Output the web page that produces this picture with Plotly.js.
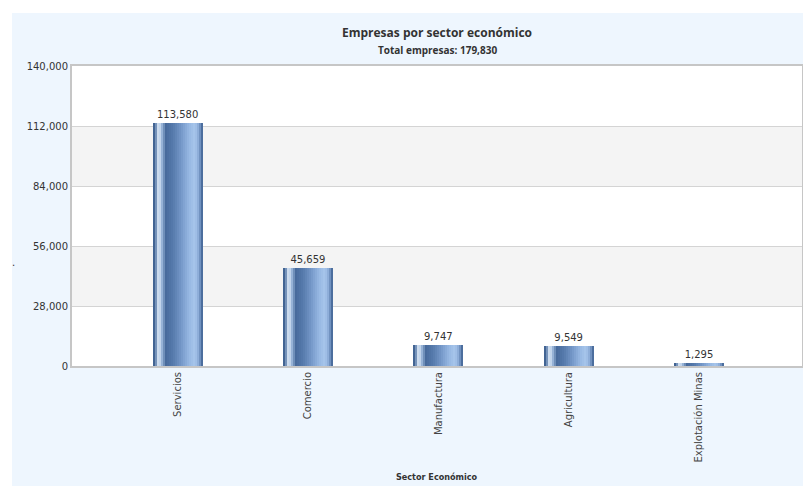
<!DOCTYPE html>
<html>
<head>
<meta charset="utf-8">
<script src="https://cdn.plot.ly/plotly-3.0.1.min.js"></script>
<style>html,body{margin:0;padding:0;background:#fff;}#chart{width:803px;height:486px;}</style>
</head>
<body>
<div id="chart"></div>
<script>
// ---- data ----
const categories = ['Servicios', 'Comercio', 'Manufactura', 'Agricultura', 'Explotación Minas'];
const empresas = [113580, 45659, 9747, 9549, 1295];
const yTickVals = [0, 28000, 56000, 84000, 112000, 140000];
const chartTitle = 'Empresas por sector económico';
const chartSubtitle = 'Total empresas: 179,830';
const xTitle = 'Sector Económico';
const yTitle = '.';

// ---- style helpers ----
const BAR_W = 0.383;
const stops = [
  [0.00, [47, 82, 131]],
  [0.05, [95, 128, 172]],
  [0.11, [226, 237, 250]],
  [0.18, [150, 178, 214]],
  [0.26, [72, 107, 156]],
  [0.40, [86, 122, 172]],
  [0.55, [114, 149, 198]],
  [0.72, [150, 183, 226]],
  [0.84, [168, 198, 236]],
  [0.91, [138, 170, 214]],
  [0.97, [88, 122, 170]],
  [1.00, [52, 86, 134]]
];
function colorAt(t) {
  for (let k = 0; k < stops.length - 1; k++) {
    const a = stops[k], b = stops[k + 1];
    if (t >= a[0] && t <= b[0]) {
      const f = (t - a[0]) / (b[0] - a[0]);
      const c = a[1].map((v, j) => Math.round(v + (b[1][j] - v) * f));
      return 'rgb(' + c.join(',') + ')';
    }
  }
  return 'rgb(52,86,134)';
}

const traces = [];
// outer bar with labels
traces.push({
  type: 'bar', x: categories, y: empresas, width: BAR_W,
  marker: { color: 'rgb(52,86,134)', line: { width: 0 } },
  text: empresas.map(v => v.toLocaleString('en-US')),
  textposition: 'outside', cliponaxis: false,
  textfont: { family: 'DejaVu Sans', size: 10, color: '#333' },
  hoverinfo: 'x+y', showlegend: false
});
const N = 25;
const sw = BAR_W / N;
for (let i = 0; i < N; i++) {
  const t = (i + 0.5) / N;
  traces.push({
    type: 'bar', x: categories, y: empresas,
    width: i === N - 1 ? sw : sw * 2, offset: -BAR_W / 2 + i * sw,
    marker: { color: colorAt(t), line: { width: 0 } },
    hoverinfo: 'skip', showlegend: false, textposition: 'none'
  });
}

const plotL = 72, plotR = 802, plotT = 66, plotB = 366, H = 486, Wd = 803;
const pw = plotR - plotL, ph = plotB - plotT;
const px = v => (v - plotL) / pw;
const py = v => (plotB - v) / ph;

const bands = [];
for (let k = 1; k + 1 < yTickVals.length; k += 2) {
  bands.push({
    type: 'rect', xref: 'paper', yref: 'y', x0: 0, x1: 1,
    y0: yTickVals[k], y1: yTickVals[k + 1],
    fillcolor: '#f4f4f4', line: { width: 0 }, layer: 'below'
  });
}

const layout = {
  width: Wd, height: H,
  margin: { l: plotL, r: Wd - plotR, t: plotT, b: H - plotB, pad: 0 },
  paper_bgcolor: '#eef6fe',
  plot_bgcolor: '#ffffff',
  barmode: 'overlay',
  bargap: 0,
  showlegend: false,
  font: { family: 'DejaVu Sans', size: 10, color: '#333' },
  title: {
    text: '<b>' + chartTitle + '</b>',
    font: { family: 'Open Sans', size: 12, color: '#333' },
    xref: 'paper', x: 0.5, xanchor: 'center',
    yref: 'container', y: 1 - 33 / H, yanchor: 'middle'
  },
  xaxis: {
    type: 'category', range: [-0.81, 4.79],
    tickangle: -90, ticks: '', ticklen: 0,
    tickfont: { family: 'DejaVu Sans', size: 10, color: '#444' },
    showgrid: false, zeroline: false,
    showline: true, linecolor: '#c6c6c6', linewidth: 2, mirror: true,
    automargin: false, fixedrange: true
  },
  yaxis: {
    range: [0, 140000], tickvals: yTickVals, tickformat: ',d',
    tickfont: { family: 'DejaVu Sans', size: 10, color: '#333' },
    ticks: '', showgrid: true, gridcolor: '#d4d4d4', gridwidth: 1,
    zeroline: false, showline: true, linecolor: '#c6c6c6', linewidth: 2, mirror: true,
    automargin: false, fixedrange: true
  },
  shapes: [
    { type: 'rect', xref: 'paper', yref: 'paper', x0: px(0), x1: px(Wd + 5), y0: py(13), y1: py(-5),
      fillcolor: '#ffffff', line: { width: 0 }, layer: 'below' },
    { type: 'rect', xref: 'paper', yref: 'paper', x0: px(-5), x1: px(12), y0: py(H + 5), y1: py(-5),
      fillcolor: '#ffffff', line: { width: 0 }, layer: 'below' }
  ].concat(bands),
  annotations: [
    { text: '<b>' + chartSubtitle + '</b>', xref: 'paper', yref: 'paper', x: 0.5, y: py(50),
      xanchor: 'center', yanchor: 'middle', showarrow: false,
      font: { family: 'Open Sans', size: 10, color: '#333' } },
    { text: '<b>' + xTitle + '</b>', xref: 'paper', yref: 'paper', x: 0.5, y: py(477),
      xanchor: 'center', yanchor: 'middle', showarrow: false,
      font: { family: 'DejaVu Sans Condensed', size: 9, color: '#333' } },
    { text: yTitle, xref: 'paper', yref: 'paper', x: px(13), y: py(262),
      xanchor: 'center', yanchor: 'middle', showarrow: false,
      font: { family: 'DejaVu Sans', size: 10, color: '#333' } }
  ]
};

Plotly.newPlot('chart', traces, layout, { displayModeBar: false, staticPlot: true });
</script>
</body>
</html>
